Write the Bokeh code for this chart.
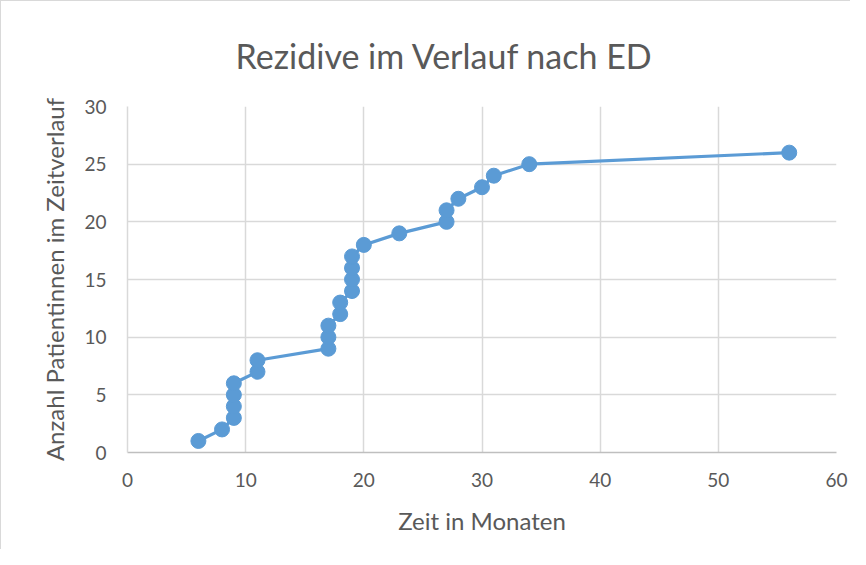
from bokeh.plotting import figure
from bokeh.models import Range1d, FixedTicker, Title
from bokeh.embed import file_html
from bokeh.resources import INLINE

# Data
months = [6, 8, 9, 9, 9, 9, 11, 11, 17, 17, 17, 18, 18, 19, 19, 19, 19, 20, 23, 27, 27, 28, 30, 31, 34, 56]
patients = [1, 2, 3, 4, 5, 6, 7, 8, 9, 10, 11, 12, 13, 14, 15, 16, 17, 18, 19, 20, 21, 22, 23, 24, 25, 26]
x_ticks = [0, 10, 20, 30, 40, 50, 60]
y_ticks = [0, 5, 10, 15, 20, 25, 30]

TITLE = "Rezidive im Verlauf nach ED"
X_LABEL = "Zeit in Monaten"
Y_LABEL = "Anzahl Patientinnen im Zeitverlauf"

FONT = "Lato"
TEXT = "#595959"
BLUE = "#5B9BD5"

p = figure(width=850, height=549, output_backend="svg", toolbar_location=None,
           x_range=Range1d(0, 60), y_range=Range1d(0, 30), title=None)
p.min_border_left = 126
p.min_border_right = 15
p.min_border_top = 104
p.min_border_bottom = 98
p.outline_line_color = None
p.background_fill_color = "white"
p.border_fill_color = "white"

t = Title(text=TITLE, align="left", offset=108, text_font=FONT, text_font_size="34px",
          text_color=TEXT, text_font_style="normal", standoff=62)
p.add_layout(t, "above")

p.line(months, patients, line_color=BLUE, line_width=3.2)
p.scatter(months, patients, size=15, fill_color=BLUE, line_color=BLUE)

for ax in (p.xaxis[0], p.yaxis[0]):
    ax.major_tick_out = 0
    ax.major_tick_in = 0
    ax.minor_tick_out = 0
    ax.minor_tick_in = 0
    ax.major_label_text_font = FONT
    ax.major_label_text_font_size = "19px"
    ax.major_label_text_color = TEXT
    ax.axis_label_text_font = FONT
    ax.axis_label_text_font_size = "24px"
    ax.axis_label_text_color = TEXT
    ax.axis_label_text_font_style = "normal"

p.xaxis.ticker = FixedTicker(ticks=x_ticks)
p.yaxis.ticker = FixedTicker(ticks=y_ticks)
p.xaxis.axis_label = X_LABEL
p.yaxis.axis_label = Y_LABEL
p.xaxis.axis_line_color = "#BFBFBF"
p.xaxis.axis_line_width = 1.5
p.yaxis.axis_line_color = "#D9D9D9"
p.yaxis.axis_line_width = 1.5
p.xaxis.major_label_standoff = 20
p.yaxis.major_label_standoff = 21
p.xaxis.axis_label_standoff = 16
p.yaxis.axis_label_standoff = 12

p.xgrid.ticker = FixedTicker(ticks=x_ticks)
p.ygrid.ticker = FixedTicker(ticks=y_ticks)
p.grid.grid_line_color = "#D9D9D9"
p.grid.grid_line_width = 1.5

p.styles = {"border-left": "1px solid #D9D9D9", "border-top": "1px solid #D9D9D9"}

open("out.html", "w").write(file_html(p, INLINE))
